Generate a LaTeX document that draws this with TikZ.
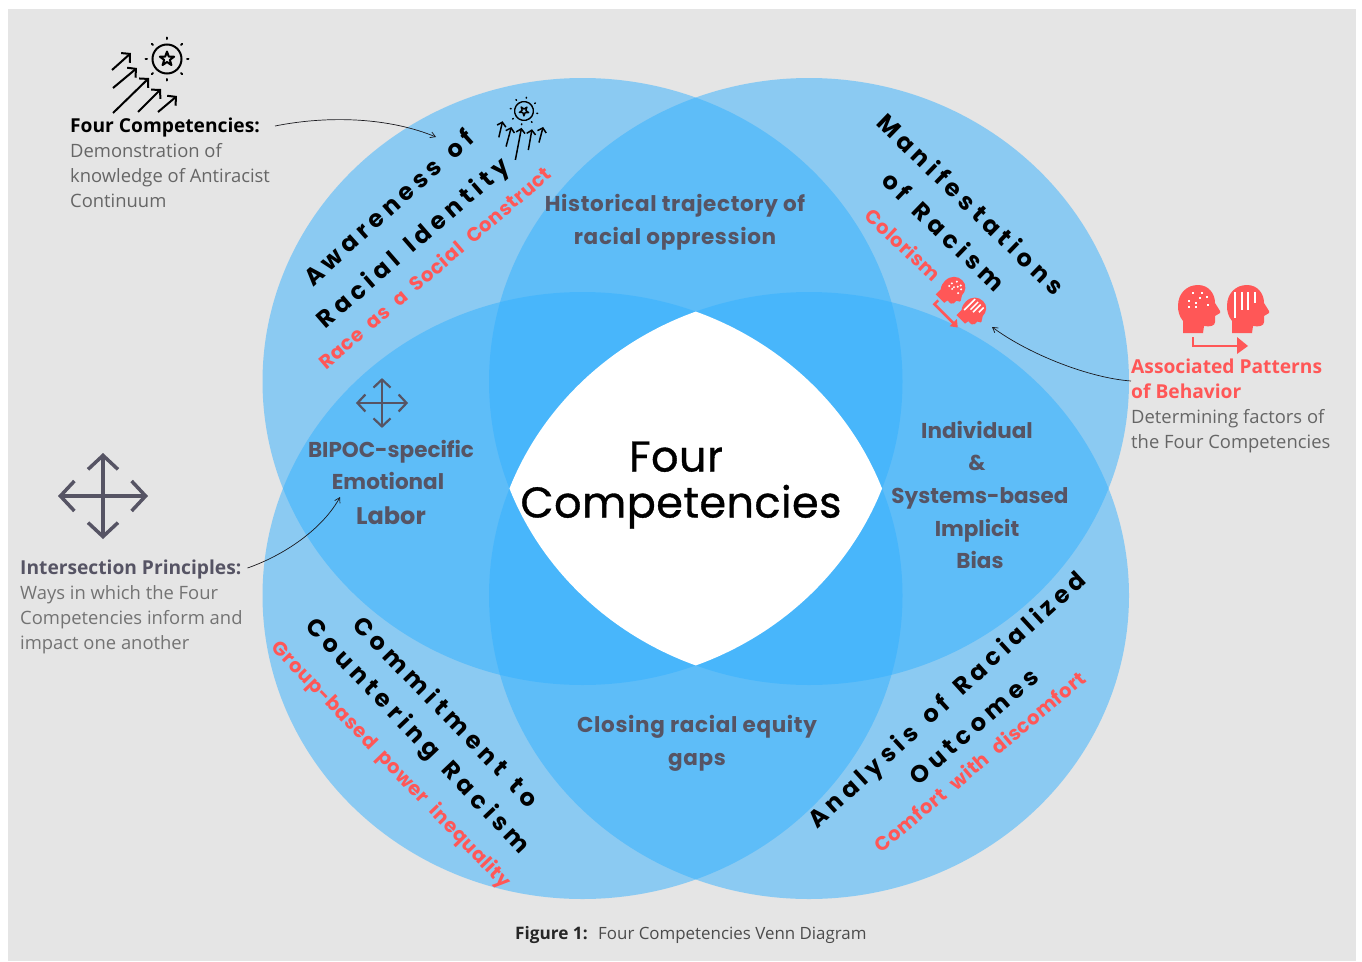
\documentclass[tikz,border=0pt]{standalone}
\usepackage{fontspec}
\usetikzlibrary{arrows.meta}
\setmainfont{Open Sans}
\newfontfamily\popfont{Poppins}
\newfontfamily\centrefont[FakeBold=.8,LetterSpace=1]{Poppins}
\newfontfamily\headfont[LetterSpace=20]{Poppins}
\newfontfamily\redfont[LetterSpace=3]{Poppins}
\newfontfamily\widefont[LetterSpace=3]{Poppins}
\definecolor{pagegrey}{HTML}{E5E5E5}
\definecolor{vennblue}{RGB}{51,177,255}
\definecolor{slate}{HTML}{565464}
\definecolor{coral}{HTML}{FF5757}
\definecolor{bodygrey}{HTML}{666666}
\newcommand{\headpath}{(-16,24) -- (-16,12) .. controls (-20,7) and (-21,2) .. (-21,-3)
      .. controls (-21,-16) and (-12,-24) .. (-1,-24)
      .. controls (10,-24) and (16,-15) .. (16,-6)
      -- (21,2) -- (21,4) -- (16,7) -- (16,13) .. controls (16,17) and (11,18) .. (5,17) -- (4,24) -- cycle}
\tikzset{
  x=1pt,y=-1pt,
  venn/.style={fill=vennblue,fill opacity=.5,draw=none},
  headline/.style={font=\headfont\bfseries\fontsize{24}{23}\selectfont,text=black,inner sep=0pt,text height=16pt,text depth=0pt},
  redline/.style={font=\redfont\bfseries\fontsize{19.5}{20}\selectfont,text=coral,inner sep=0pt,text height=14pt,text depth=0pt},
  midline/.style={font=\popfont\bfseries\fontsize{21.5}{20}\selectfont,text=slate,inner sep=0pt,text height=15pt,text depth=0pt},
  midwide/.style={midline,font=\widefont\bfseries\fontsize{21.5}{20}\selectfont},
  noteline/.style={font=\fontsize{18.4}{25}\selectfont,text=bodygrey,inner sep=0pt,anchor=west,text height=13pt,text depth=0pt},
  notehead/.style={font=\bfseries\fontsize{19.2}{25}\selectfont,inner sep=0pt,anchor=west,text height=13pt,text depth=0pt},
  capline/.style={inner sep=0pt,anchor=west,text height=12pt,text depth=0pt},
  bigword/.style={inner sep=0pt,font=\centrefont\fontsize{43}{43}\selectfont,text height=31pt,text depth=0pt},
  pointer/.style={draw=black!70!slate,line width=.7pt,-{Straight Barb[length=5pt,width=6pt]}},
  sunline/.style={line width=2pt,black,-{Straight Barb[length=6pt,width=13pt]}},
  sunring/.style={line width=2pt,black},
  crossline/.style={line width=3.5pt,slate,{Straight Barb[length=14pt,width=30pt]}-{Straight Barb[length=14pt,width=30pt]}},
  sunicon/.pic={
    \draw[sunring] (0,0) circle (14.5);
    \draw[sunring,line join=round] (90:-7.5) -- (126:-3) -- (162:-7.5) -- (198:-3) -- (234:-7.5) -- (270:-3) -- (306:-7.5) -- (342:-3) -- (18:-7.5) -- (54:-3) -- cycle;
    \foreach \a in {0,45,...,315}{\draw[sunring,line cap=round] (\a:20) -- (\a:21.5);}
    \draw[sunline] (-55,11) -- (-36,-6);
    \draw[sunline] (-54,29) -- (-30,9);
    \draw[sunline] (-54,54) -- (-18,19);
    \draw[sunline] (-29,53) -- (-6,30);
    \draw[sunline] (-9,53) -- (10,37);
  },
  crossicon/.pic={
    \draw[crossline] (-45,0) -- (45,0);
    \draw[crossline] (0,-43) -- (0,43);
  },
  headsicon/.pic={
    \begin{scope}[shift={(-24,-9)}]\fill[coral] \headpath;\end{scope}
    \begin{scope}[shift={(25,-9)}]\fill[coral] \headpath;\end{scope}
    \foreach \xx/\yy in {-30/-25,-21/-25,-16/-21,-23/-20,-34/-17,-27/-15,-15/-13,-34/-11,-27/-11}
      \fill[white] (\xx-1.3,\yy-1.3) rectangle (\xx+1.3,\yy+1.3);
    \foreach \xx/\yy in {12/0,19/-8,25/-8,32/-15}
      \fill[white] (\xx-1.3,-26) rectangle (\xx+1.3,\yy);
    \draw[coral,line width=2.5pt] (-30,19) -- (-30,28) -- (17,28);
    \fill[coral] (14,19) -- (25,28) -- (14,36) -- cycle;
  }
}
\begin{document}
\begin{tikzpicture}
\useasboundingbox (0,0) rectangle (1362,961);
\fill[white] (0,0) rectangle (1362,961);
\fill[pagegrey] (8,9) rectangle (1356,961);
% four ellipses
\fill[venn] (582.5,381.5) ellipse [x radius=320,y radius=303.5];
\fill[venn] (809,381.5) ellipse [x radius=320,y radius=303.5];
\fill[venn] (582.5,595.5) ellipse [x radius=320,y radius=303.5];
\fill[venn] (809,595.5) ellipse [x radius=320,y radius=303.5];
\begin{scope}
 \clip (582.5,381.5) ellipse [x radius=320,y radius=303.5];
 \clip (809,381.5) ellipse [x radius=320,y radius=303.5];
 \clip (582.5,595.5) ellipse [x radius=320,y radius=303.5];
 \clip (809,595.5) ellipse [x radius=320,y radius=303.5];
 \fill[white] (450,280) rectangle (950,700);
\end{scope}
% centre
\node[bigword] (fourword) at (676,456) {Four};
\node[bigword] (compword) at (681,502) {Competencies};
% rotated headings
\node[headline,rotate=42] (aw1) at (389,208) {\spaceskip 14pt\relax Awareness of};
\node[headline,rotate=41] (aw2) at (413,243) {\spaceskip 14pt\relax Racial Identity};
\node[redline,rotate=40.5] (aw3) at (435,268) {\spaceskip 10pt\relax Race as a Social Construct};
\node[headline,rotate=-44] (ma1) at (970,205) {Manifestations};
\node[headline,rotate=-44] (ma2) at (943,232) {\spaceskip 14pt\relax of Racism};
\node[redline,rotate=-43] (ma3) at (903,245) {Colorism};
\node[headline,rotate=-46] (co1) at (446,712) {\spaceskip 14pt\relax Commitment to};
\node[headline,rotate=-46.5] (co2) at (418,736) {\spaceskip 14pt\relax Countering Racism};
\node[redline,rotate=-46] (co3) at (392,764) {\spaceskip 10pt\relax Group-based power inequality};
\node[headline,rotate=42.5] (an1) at (947,700) {\spaceskip 14pt\relax Analysis of Racialized};
\node[headline,rotate=41] (an2) at (974,727) {Outcomes};
\node[redline,rotate=40] (an3) at (980,762) {\spaceskip 10pt\relax Comfort with discomfort};
% intersections
\node[midwide] (hi1) at (675,204) {Historical trajectory of};
\node[midwide] (hi2) at (675,237) {racial oppression};
\node[midline] (in1) at (977,431) {Individual};
\node[midline] (in2) at (977,463) {\&};
\node[midline] (in3) at (980,496) {Systems-based};
\node[midline] (in4) at (977,529) {Implicit};
\node[midline] (in5) at (980,561) {Bias};
\node[midline] (bi1) at (391,450) {BIPOC-specific};
\node[midline] (bi2) at (388,482) {Emotional};
\node[midline,font=\popfont\bfseries\fontsize{24}{24}\selectfont] (bi3) at (391,517) {Labor};
\node[midwide] (cl1) at (697,725) {Closing racial equity};
\node[midwide] (cl2) at (697,758) {gaps};
% notes left top
\node[notehead,text=black] (fc0) at (70,126) {Four Competencies:};
\node[noteline] (fc1) at (70,151) {Demonstration of};
\node[noteline] (fc2) at (70,176) {knowledge of Antiracist};
\node[noteline] (fc3) at (70,201) {Continuum};
% notes right
\node[notehead,text=coral] (ap0) at (1131,367) {Associated Patterns};
\node[notehead,text=coral] (ap1) at (1131,392) {of Behavior};
\node[noteline] (ap2) at (1131,417) {Determining factors of};
\node[noteline] (ap3) at (1131,442) {the Four Competencies};
% notes left bottom
\node[notehead,text=slate] (ip0) at (20,568) {Intersection Principles:};
\node[noteline,text=black!55] (ip1) at (20,593) {Ways in which the Four};
\node[noteline,text=black!55] (ip2) at (20,618) {Competencies inform and};
\node[noteline,text=black!55] (ip3) at (20,643) {impact one another};
% caption
\node[capline,font=\bfseries\fontsize{17.2}{20}\selectfont,text=black!85] (cap0) at (515,933) {Figure 1:};
\node[capline,font=\fontsize{16.9}{20}\selectfont,text=black!70] (cap1) at (598,933) {Four Competencies Venn Diagram};
% icons
\pic at (167,59) {sunicon};
\begin{scope}[sunline/.style={line width=1.5pt,black,-{Straight Barb[length=4pt,width=9pt]}},sunring/.style={line width=1.4pt,black}]
 \pic[rotate=35,scale=.65] at (524,111) {sunicon};
\end{scope}
\pic at (103,496) {crossicon};
\begin{scope}[crossline/.style={line width=2.2pt,slate,{Straight Barb[length=8pt,width=17pt]}-{Straight Barb[length=8pt,width=17pt]}}]
 \pic[scale=.58] at (382,403) {crossicon};
\end{scope}
\pic at (1223,318) {headsicon};
\pic[rotate=-45,scale=.6] at (959,305) {headsicon};
% pointers
\coordinate (fctarget) at (436,137);
\coordinate (aptarget) at (992,327);
\coordinate (iptarget) at (340,497);
\draw[pointer] ([xshift=15pt]fc0.east) .. controls (330,115) and (390,118) .. (fctarget);
\draw[pointer] ([yshift=-14pt]ap0.west) .. controls (1090,378) and (1030,355) .. (aptarget);
\draw[pointer] ([xshift=6pt]ip0.east) .. controls (290,553) and (325,525) .. (iptarget);
\end{tikzpicture}
\end{document}
